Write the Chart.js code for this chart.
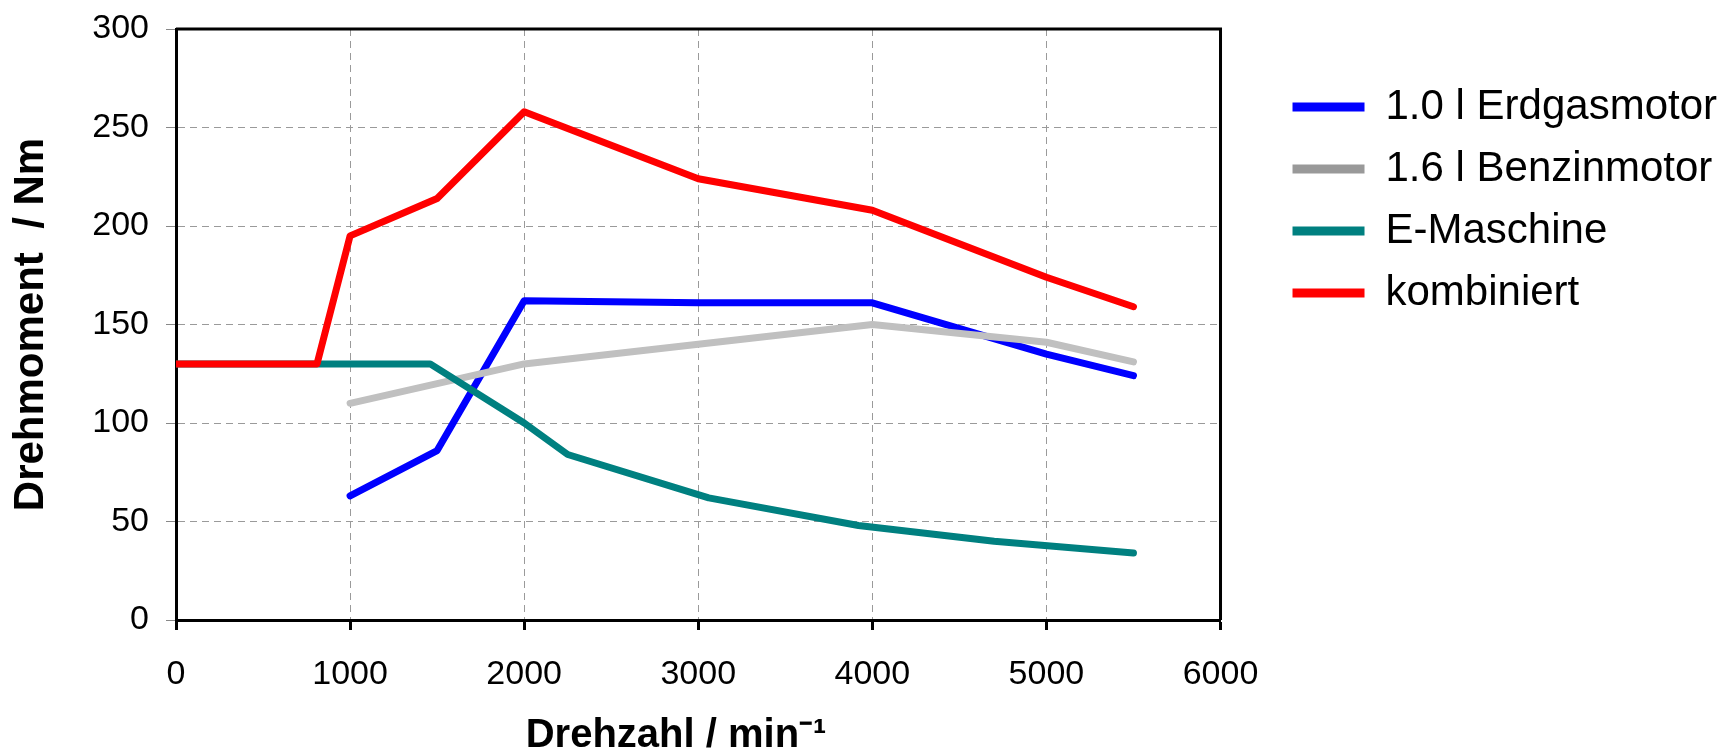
<!DOCTYPE html>
<html>
<head>
<meta charset="utf-8">
<script src="https://cdn.jsdelivr.net/npm/chart.js@4"></script>
<style>
  html, body { margin: 0; padding: 0; background: #fff; }
  #wrap { width: 1733px; height: 752px; position: relative; }
</style>
</head>
<body>
<div id="wrap"><canvas id="chart"></canvas></div>
<script>
// Drehmoment über Drehzahl
const seriesNames = ['1.0 l Erdgasmotor', '1.6 l Benzinmotor', 'E-Maschine', 'kombiniert'];

const erdgasRpm = [1000, 1500, 2000, 3000, 4000, 5000, 5500];
const erdgasNm  = [63, 86, 162, 161, 161, 135, 124];

const benzinRpm = [1000, 2000, 3000, 4000, 5000, 5500];
const benzinNm  = [110, 130, 140, 150, 141, 131];

const emaschRpm = [0, 800, 1460, 2000, 2250, 3060, 3920, 4700, 5500];
const emaschNm  = [130, 130, 130, 100, 84, 62, 48, 40, 34];

const kombRpm = [0, 810, 1000, 1500, 2000, 3000, 4000, 5000, 5500];
const kombNm  = [130, 130, 195, 214, 258, 224, 208, 174, 159];

const xTicks = [0, 1000, 2000, 3000, 4000, 5000, 6000];
const yTicks = [0, 50, 100, 150, 200, 250, 300];

const FONT = "'Liberation Sans', Arial, Helvetica, sans-serif";
Chart.defaults.font.family = FONT;
Chart.defaults.color = '#000';

const pts = (xs, ys) => xs.map((x, i) => ({ x, y: ys[i] }));

function series(label, xs, ys, color, legendColor, order) {
  return {
    label,
    data: pts(xs, ys),
    borderColor: color,
    backgroundColor: legendColor,
    borderWidth: 7,
    borderCapStyle: 'round',
    borderJoinStyle: 'round',
    pointRadius: 0,
    tension: 0,
    fill: false,
    order
  };
}

// frame on top and right of the plot
const frame = {
  id: 'frame',
  afterDatasetsDraw(chart) {
    const { ctx, chartArea: a } = chart;
    ctx.save();
    ctx.strokeStyle = '#000';
    ctx.lineWidth = 3;
    ctx.beginPath();
    ctx.moveTo(a.left, a.top);
    ctx.lineTo(a.right, a.top);
    ctx.lineTo(a.right, a.bottom);
    ctx.stroke();
    ctx.restore();
  }
};

new Chart(document.getElementById('chart'), {
  type: 'line',
  data: {
    datasets: [
      series(seriesNames[0], erdgasRpm, erdgasNm, '#0000ff', '#0000ff', 4),
      series(seriesNames[1], benzinRpm, benzinNm, '#c0c0c0', '#999999', 3),
      series(seriesNames[2], emaschRpm, emaschNm, '#008080', '#008080', 2),
      series(seriesNames[3], kombRpm, kombNm, '#ff0000', '#ff0000', 1)
    ]
  },
  options: {
    responsive: true,
    maintainAspectRatio: false,
    animation: false,
    layout: { padding: { top: 29, right: 6, bottom: 0, left: 0 } },
    plugins: {
      tooltip: { enabled: false },
      legend: {
        position: 'right',
        align: 'start',
        maxWidth: 500,
        title: { display: true, text: ' ', font: { size: 10 }, padding: { top: 25, bottom: 0 } },
        labels: {
          boxWidth: 72,
          boxHeight: 9,
          padding: 20,
          font: { size: 42 },
          sort: (a, b) => a.datasetIndex - b.datasetIndex,
          generateLabels: chart => Chart.defaults.plugins.legend.labels.generateLabels(chart)
            .map(l => ({ ...l, strokeStyle: l.fillStyle, lineWidth: 0 }))
        }
      }
    },
    scales: {
      x: {
        type: 'linear',
        min: 0,
        max: 6000,
        afterBuildTicks: s => { s.ticks = xTicks.map(v => ({ value: v })); },
        afterFit: s => { s.height = 132; },
        ticks: { font: { size: 34 }, padding: 24, maxRotation: 0, callback: v => String(v) },
        grid: { color: '#9a9a9a', lineWidth: 1, tickColor: '#000', tickWidth: 3, tickLength: 10 },
        border: { color: '#000', width: 3, dash: [7, 5] },
        title: { display: true, text: 'Drehzahl / min⁻¹    ', font: { size: 40, weight: 'bold' }, padding: { top: 0, bottom: -8 } }
      },
      y: {
        min: 0,
        max: 300,
        afterBuildTicks: s => { s.ticks = yTicks.map(v => ({ value: v })); },
        afterFit: s => { s.width = 176; s.paddingTop = 0; s.paddingBottom = 0; },
        ticks: { font: { size: 34 }, padding: 17, callback: v => String(v) },
        grid: { color: '#9a9a9a', lineWidth: 1, tickColor: '#888', tickWidth: 1, tickLength: 10 },
        border: { color: '#000', width: 3, dash: [7, 5] },
        title: { display: true, text: 'Drehmoment  / Nm', font: { size: 42, weight: 'bold' }, padding: { top: 6, bottom: 0 } }
      },
      spacer: {
        type: 'linear',
        position: 'right',
        display: true,
        grid: { display: false },
        ticks: { display: false },
        border: { display: false },
        afterFit: s => { s.width = 52; }
      }
    }
  },
  plugins: [frame]
});
</script>
</body>
</html>
